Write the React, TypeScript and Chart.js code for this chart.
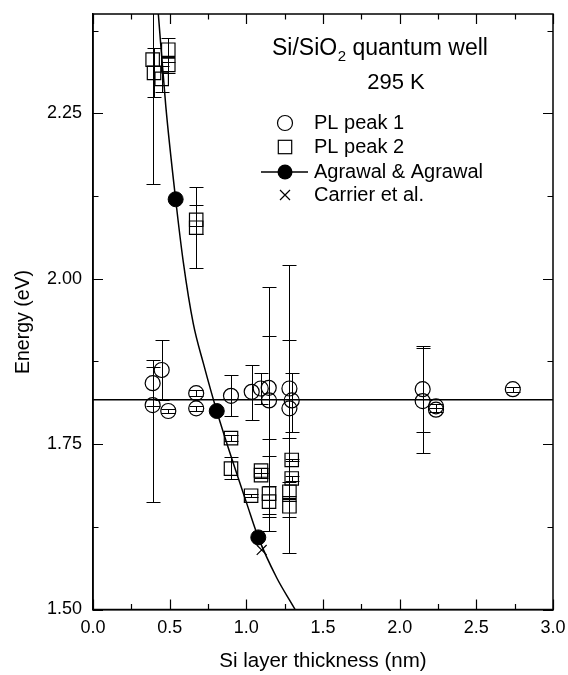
import React, { useEffect, useRef } from "react";
import { Chart, registerables } from "chart.js";

Chart.register(...registerables);

const FONT = "'Liberation Sans', Arial, Helvetica, sans-serif";

// Axis ticks
const xTickValues = [0, 0.5, 1.0, 1.5, 2.0, 2.5, 3.0];
const xMinorValues = [0.25, 0.75, 1.25, 1.75, 2.25, 2.75];
const yTickValues = [1.5, 1.75, 2.0, 2.25];
const yMinorValues = [1.625, 1.875, 2.125, 2.375];

// PL peak 1 (open circles) with error bars
const pl1X = [0.389, 0.389, 0.448, 0.491, 0.673, 0.673, 0.9, 1.035, 1.094, 1.146, 1.148, 1.281, 1.281, 1.296, 2.15, 2.15, 2.237, 2.237, 2.738];
const pl1Y = [1.842, 1.809, 1.862, 1.8, 1.827, 1.804, 1.823, 1.829, 1.834, 1.835, 1.816, 1.834, 1.804, 1.816, 1.833, 1.815, 1.807, 1.802, 1.833];
const pl1Lo = [1.807, 1.662, 1.816, 1.797, 1.823, 1.8, 1.792, 1.787, 1.811, 1.757, 1.644, 1.759, 1.586, 1.769, 1.768, 1.736, 1.804, 1.799, 1.829];
const pl1Hi = [1.877, 1.867, 1.908, 1.803, 1.831, 1.808, 1.854, 1.87, 1.857, 1.913, 1.988, 1.908, 2.02, 1.857, 1.898, 1.895, 1.81, 1.805, 1.837];

// PL peak 2 (open squares) with error bars
const pl2X = [0.389, 0.398, 0.448, 0.491, 0.491, 0.673, 0.673, 0.9, 0.9, 1.031, 1.096, 1.096, 1.148, 1.148, 1.281, 1.281, 1.296, 1.296];
const pl2Y = [2.331, 2.311, 2.302, 2.346, 2.323, 2.089, 2.077, 1.759, 1.713, 1.672, 1.71, 1.703, 1.675, 1.663, 1.678, 1.656, 1.726, 1.698];
const pl2Lo = [2.143, 2.274, 2.282, 2.328, 2.311, 2.067, 2.016, 1.754, 1.697, 1.67, 1.706, 1.699, 1.618, 1.64, 1.664, 1.64, 1.724, 1.694];
const pl2Hi = [2.519, 2.348, 2.322, 2.364, 2.335, 2.111, 2.138, 1.764, 1.731, 1.674, 1.714, 1.707, 1.732, 1.686, 1.692, 1.672, 1.728, 1.702];

// Agrawal & Agrawal points and curve
const agX = [0.539, 0.807, 1.078];
const agY = [2.12, 1.8, 1.609];
const curveX = [0.426, 0.475, 0.539, 0.589, 0.654, 0.72, 0.807, 0.915, 1.003, 1.078, 1.198, 1.318, 1.4];
const curveY = [2.4, 2.26, 2.12, 2.025, 1.932, 1.872, 1.8, 1.721, 1.66, 1.609, 1.548, 1.5, 1.465];

// Carrier et al.
const carX = [1.1];
const carY = [1.59];

// Horizontal reference line
const hLineX = [0, 3];
const hLineY = [1.817, 1.817];

const legendLabels = ["PL peak 1", "PL peak 2", "Agrawal & Agrawal", "Carrier et al."];
const titleMain = "Si/SiO";
const titleSub = "2";
const titleRest = " quantum well";
const titleTemp = "295 K";
const yAxisTitle = "Energy (eV)";
const xAxisTitle = "Si layer thickness (nm)";

const pts = (xs: number[], ys: number[]) => xs.map((x, i) => ({ x, y: ys[i] }));

const errorBarPlugin = {
  id: "errorBars",
  beforeDatasetsDraw(chart: any) {
    const { ctx, chartArea, scales } = chart;
    const xs = scales.x;
    const ys = scales.y;
    ctx.save();
    ctx.beginPath();
    ctx.rect(chartArea.left, chartArea.top, chartArea.right - chartArea.left, chartArea.bottom - chartArea.top);
    ctx.clip();
    ctx.strokeStyle = "#000";
    ctx.lineWidth = 1;
    const sets: [number[], number[], number[]][] = [
      [pl1X, pl1Lo, pl1Hi],
      [pl2X, pl2Lo, pl2Hi],
    ];
    for (const [xa, lo, hi] of sets) {
      for (let i = 0; i < xa.length; i++) {
        const px = Math.round(xs.getPixelForValue(xa[i])) + 0.5;
        const pl = Math.round(ys.getPixelForValue(lo[i])) + 0.5;
        const ph = Math.round(ys.getPixelForValue(hi[i])) + 0.5;
        ctx.beginPath();
        ctx.moveTo(px, pl);
        ctx.lineTo(px, ph);
        ctx.moveTo(px - 7, pl);
        ctx.lineTo(px + 7, pl);
        ctx.moveTo(px - 7, ph);
        ctx.lineTo(px + 7, ph);
        ctx.stroke();
      }
    }
    ctx.restore();
  },
};

const framePlugin = {
  id: "frame",
  afterDraw(chart: any) {
    const { ctx, chartArea, scales } = chart;
    const { left, right, top, bottom } = chartArea;
    ctx.save();
    ctx.strokeStyle = "#000";
    ctx.lineWidth = 1.5;
    ctx.strokeRect(left, top, right - left, bottom - top);
    ctx.lineWidth = 1.2;
    const majorLen = 10;
    const minorLen = 5.5;
    const drawX = (vals: number[], len: number) => {
      for (const v of vals) {
        const px = Math.round(scales.x.getPixelForValue(v)) + 0.5;
        ctx.beginPath();
        ctx.moveTo(px, bottom);
        ctx.lineTo(px, bottom - len);
        ctx.moveTo(px, top);
        ctx.lineTo(px, top + len);
        ctx.stroke();
      }
    };
    const drawY = (vals: number[], len: number) => {
      for (const v of vals) {
        const py = Math.round(scales.y.getPixelForValue(v)) + 0.5;
        ctx.beginPath();
        ctx.moveTo(left, py);
        ctx.lineTo(left + len, py);
        ctx.moveTo(right, py);
        ctx.lineTo(right - len, py);
        ctx.stroke();
      }
    };
    drawX(xTickValues, majorLen);
    drawX(xMinorValues, minorLen);
    drawY(yTickValues, majorLen);
    drawY(yMinorValues, minorLen);
    ctx.restore();
  },
};

const annotationPlugin = {
  id: "annotations",
  afterDraw(chart: any) {
    const { ctx } = chart;
    ctx.save();
    ctx.fillStyle = "#000";
    ctx.strokeStyle = "#000";
    ctx.textBaseline = "middle";
    ctx.textAlign = "left";
    const titleFont = `23px ${FONT}`;
    const subFont = `15px ${FONT}`;
    let x = 264;
    const ty = 40.5;
    ctx.font = titleFont;
    ctx.fillText(titleMain, x, ty);
    x += ctx.measureText(titleMain).width;
    ctx.font = subFont;
    ctx.fillText(titleSub, x + 0.5, ty + 8);
    x += ctx.measureText(titleSub).width + 0.5;
    ctx.font = titleFont;
    ctx.fillText(titleRest, x, ty);
    ctx.textAlign = "center";
    ctx.font = `22px ${FONT}`;
    ctx.fillText(titleTemp, 388, 75);

    ctx.textAlign = "left";
    const mx = 277;
    const tx = 306;
    const rows = [115, 139, 164, 187];
    ctx.lineWidth = 1.2;
    ctx.beginPath();
    ctx.arc(mx, rows[0], 7.5, 0, Math.PI * 2);
    ctx.stroke();
    ctx.strokeRect(mx - 6.7, rows[1] - 6.7, 13.4, 13.4);
    ctx.lineWidth = 1.5;
    ctx.beginPath();
    ctx.moveTo(mx - 24, rows[2]);
    ctx.lineTo(mx + 23, rows[2]);
    ctx.stroke();
    ctx.beginPath();
    ctx.arc(mx, rows[2], 7.5, 0, Math.PI * 2);
    ctx.fill();
    ctx.lineWidth = 1.2;
    ctx.beginPath();
    ctx.moveTo(mx - 5, rows[3] - 5);
    ctx.lineTo(mx + 5, rows[3] + 5);
    ctx.moveTo(mx + 5, rows[3] - 5);
    ctx.lineTo(mx - 5, rows[3] + 5);
    ctx.stroke();
    ctx.font = `20px ${FONT}`;
    legendLabels.forEach((t, i) => ctx.fillText(t, tx, rows[i]));

    // Y axis title (rotated)
    ctx.save();
    ctx.translate(16, 314);
    ctx.rotate(-Math.PI / 2);
    ctx.textAlign = "center";
    ctx.font = `19.5px ${FONT}`;
    ctx.fillText(yAxisTitle, 0, 0);
    ctx.restore();
    ctx.restore();
  },
};

export default function App() {
  const ref = useRef<HTMLCanvasElement | null>(null);
  useEffect(() => {
    if (!ref.current) return;
    const chart = new Chart(ref.current, {
      type: "scatter",
      data: {
        datasets: [
          {
            label: "horizontal",
            data: pts(hLineX, hLineY),
            showLine: true,
            borderColor: "#000",
            borderWidth: 1.5,
            pointRadius: 0,
          },
          {
            label: legendLabels[0],
            data: pts(pl1X, pl1Y),
            pointStyle: "circle",
            pointRadius: 7.5,
            borderColor: "#000",
            backgroundColor: "rgba(0,0,0,0)",
            borderWidth: 1.2,
          },
          {
            label: legendLabels[1],
            data: pts(pl2X, pl2Y),
            pointStyle: "rect",
            pointRadius: 9.5,
            borderColor: "#000",
            backgroundColor: "rgba(0,0,0,0)",
            borderWidth: 1.2,
          },
          {
            label: "curve",
            data: pts(curveX, curveY),
            showLine: true,
            cubicInterpolationMode: "monotone",
            borderColor: "#000",
            borderWidth: 1.5,
            pointRadius: 0,
          },
          {
            label: legendLabels[2],
            data: pts(agX, agY),
            pointStyle: "circle",
            pointRadius: 7.5,
            borderColor: "#000",
            backgroundColor: "#000",
            borderWidth: 1,
          },
          {
            label: legendLabels[3],
            data: pts(carX, carY),
            pointStyle: "crossRot",
            pointRadius: 7,
            borderColor: "#000",
            borderWidth: 1.2,
          },
        ],
      },
      options: {
        animation: false,
        responsive: false,
        devicePixelRatio: 1,
        layout: { autoPadding: false, padding: { top: 6, right: 15, left: 0, bottom: 0 } },
        plugins: {
          legend: { display: false },
          tooltip: { enabled: false },
        },
        scales: {
          x: {
            type: "linear",
            min: 0,
            max: 3,
            afterBuildTicks: (s: any) => {
              s.ticks = xTickValues.map((v) => ({ value: v }));
            },
            afterFit: (s: any) => {
              s.height = 65.5;
              s.paddingLeft = 0;
              s.paddingRight = 0;
              s.paddingTop = 0;
              s.paddingBottom = 0;
            },
            grid: { display: false, drawTicks: false },
            border: { display: true, color: "#000", width: 1.5 },
            ticks: {
              padding: 8,
              color: "#000",
              font: { family: FONT, size: 18 },
              maxRotation: 0,
              callback: (v: any) => Number(v).toFixed(1),
            },
            title: {
              display: true,
              text: xAxisTitle,
              color: "#000",
              font: { family: FONT, size: 20.5 },
              padding: { top: 0, bottom: 1 },
            },
          },
          y: {
            type: "linear",
            min: 1.5,
            max: 2.4,
            afterBuildTicks: (s: any) => {
              s.ticks = yTickValues.map((v) => ({ value: v }));
            },
            afterFit: (s: any) => {
              s.width = 85;
              s.paddingLeft = 0;
              s.paddingRight = 0;
              s.paddingTop = 0;
              s.paddingBottom = 0;
            },
            grid: { display: false, drawTicks: false },
            border: { display: true, color: "#000", width: 1.5 },
            ticks: {
              padding: 11,
              color: "#000",
              font: { family: FONT, size: 18 },
              callback: (v: any) => Number(v).toFixed(2),
            },
            title: { display: false },
          },
        },
      },
      plugins: [errorBarPlugin, framePlugin, annotationPlugin],
    } as any);
    return () => chart.destroy();
  }, []);
  return (
    <canvas
      ref={ref}
      width={560}
      height={667}
      style={{ display: "block", position: "absolute", left: 8, top: 8 }}
    />
  );
}
